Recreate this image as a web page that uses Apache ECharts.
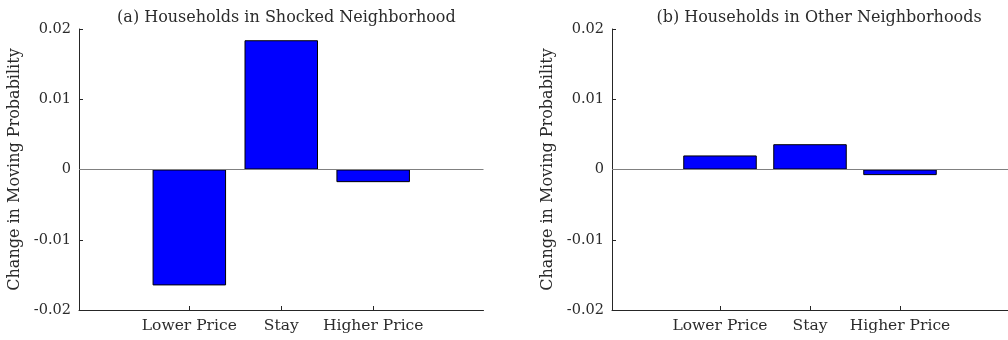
<!DOCTYPE html>
<html>
<head>
<meta charset="utf-8">
<script src="https://cdn.jsdelivr.net/npm/echarts@6/dist/echarts.min.js"></script>
<style>
  html, body { margin: 0; padding: 0; background: #fff; }
  #chart { width: 1008px; height: 340px; }
</style>
</head>
<body>
<div id="chart"></div>
<script>
// Response of moving choices to a neighborhood price shock
const categories = ['Lower Price', 'Stay', 'Higher Price'];
const shockedValues = [-0.0165, 0.0184, -0.0018];
const otherValues = [0.0020, 0.0036, -0.0008];
const yTicks = [-0.02, -0.01, 0, 0.01, 0.02];
const panelTitles = ['(a) Households in Shocked Neighborhood', '(b) Households in Other Neighborhoods'];
const yAxisTitle = 'Change in Moving Probability';

const FONT = 'DejaVu Serif';
const INK = '#262626';
const TEXT = '#2b2b2b';
const catPositions = categories.map((c, i) => i + 1);

const grids = [
  { left: 79, right: 524.5, top: 29, bottom: 30 },
  { left: 612, right: -8, top: 29, bottom: 30 }
];

function xAxisFor(gi) {
  return {
    type: 'value', gridIndex: gi, min: -0.2, max: 4.2,
    axisLine: { show: true, onZero: false, lineStyle: { color: INK, width: 1 } },
    axisTick: { show: true, inside: true, length: 4, customValues: catPositions, lineStyle: { color: INK } },
    axisLabel: {
      customValues: catPositions, margin: 8, color: TEXT, fontFamily: FONT, fontSize: 15.5,
      formatter: v => categories[Math.round(v) - 1] || ''
    },
    splitLine: { show: false }
  };
}

function yAxisFor(gi) {
  return {
    type: 'value', gridIndex: gi, min: yTicks[0], max: yTicks[yTicks.length - 1], interval: 0.01,
    name: yAxisTitle, nameLocation: 'middle', nameRotate: 90, nameGap: 56,
    nameTextStyle: { color: TEXT, fontFamily: FONT, fontSize: 16 },
    axisLine: { show: true, onZero: false, lineStyle: { color: INK, width: 1 } },
    axisTick: { show: true, inside: true, length: 4, lineStyle: { color: INK } },
    axisLabel: {
      margin: 8, color: TEXT, fontFamily: FONT, fontSize: 14.5,
      formatter: v => String(Number(v.toFixed(2)))
    },
    splitLine: { show: false }
  };
}

function barSeries(gi, values) {
  return {
    type: 'bar', xAxisIndex: gi, yAxisIndex: gi,
    data: values.map((v, i) => [catPositions[i], v]),
    barWidth: 73.5,
    itemStyle: { color: '#0000ff', borderColor: '#000000', borderWidth: 1 },
    markLine: {
      silent: true, symbol: 'none', label: { show: false },
      lineStyle: { color: '#808080', width: 1, type: 'solid' },
      data: [{ yAxis: 0 }]
    },
    animation: false
  };
}

const titleStyle = { color: TEXT, fontFamily: FONT, fontSize: 16, fontWeight: 'normal' };

const chart = echarts.init(document.getElementById('chart'), null, { renderer: 'canvas' });
chart.setOption({
  animation: false,
  backgroundColor: '#ffffff',
  title: [
    { text: panelTitles[0], left: 281.4, top: 5, textAlign: 'center', textStyle: titleStyle },
    { text: panelTitles[1], left: 814, top: 5, textAlign: 'center', textStyle: titleStyle }
  ],
  grid: grids,
  xAxis: [xAxisFor(0), xAxisFor(1)],
  yAxis: [yAxisFor(0), yAxisFor(1)],
  series: [barSeries(0, shockedValues), barSeries(1, otherValues)]
});
</script>
</body>
</html>
